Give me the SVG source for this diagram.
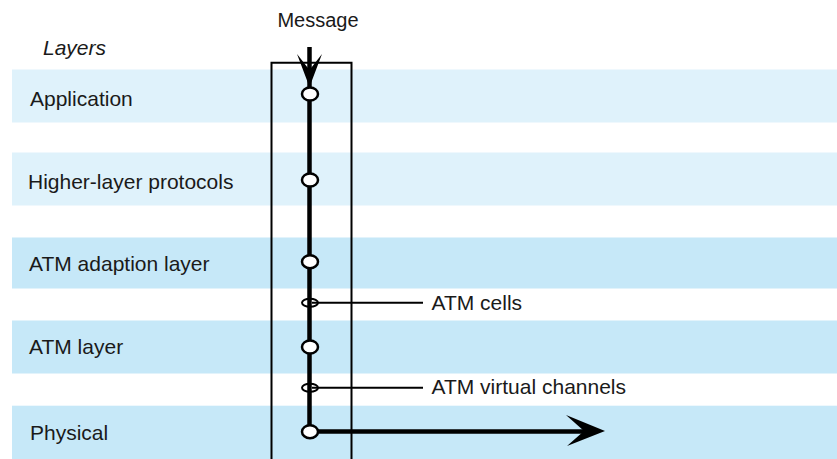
<svg xmlns="http://www.w3.org/2000/svg" width="837" height="459" viewBox="0 0 837 459">
<style>
.light{fill:#dff2fb}
.dark{fill:#c6e8f8}
.lbl{font-family:"Liberation Sans",Arial,sans-serif;font-size:21px;fill:#1a1a1a}
.port{fill:#fff;stroke:#000;stroke-width:2.5}
.tap{fill:none;stroke:#000;stroke-width:2}
.thin{fill:none;stroke:#000;stroke-width:2}
.thick{fill:none;stroke:#000;stroke-width:4.5}
</style>
<rect width="837" height="459" fill="#fff"/>
<g id="layer-application"><rect class="light" x="12" y="69.5" width="825" height="53"/><text class="lbl" x="30" y="106">Application</text></g>
<g id="layer-higher"><rect class="light" x="12" y="152.5" width="825" height="53"/><text class="lbl" x="28" y="189">Higher-layer protocols</text></g>
<g id="layer-aal"><rect class="dark" x="12" y="237.5" width="825" height="51"/><text class="lbl" x="29" y="271">ATM adaption layer</text></g>
<g id="layer-atm"><rect class="dark" x="12" y="320.5" width="825" height="53"/><text class="lbl" x="29" y="353.5">ATM layer</text></g>
<g id="layer-physical"><rect class="dark" x="12" y="405.7" width="825" height="54"/><text class="lbl" x="30" y="440">Physical</text></g>
<g id="title-layers"><text class="lbl" x="43" y="55" font-style="italic">Layers</text></g>
<g id="system-box"><path class="thin" d="M271.5 460 V62.7 H351.5 V460"/></g>
<g id="connectors">
<line class="thick" x1="309.5" y1="47" x2="309.5" y2="431.7"/>
<polygon points="297,54 309.5,87 322,54 309.5,70" fill="#000"/>
<line class="thick" x1="310" y1="431.5" x2="590" y2="431.5"/>
<polygon points="566,415 605,431 567,446 584,431" fill="#000"/>
<line class="thin" x1="312" y1="302.8" x2="423" y2="302.8"/>
<line class="thin" x1="312" y1="387.8" x2="423" y2="387.8"/>
</g>
<g id="node-app"><ellipse class="port" cx="310" cy="94" rx="8" ry="6.5"/></g>
<g id="node-higher"><ellipse class="port" cx="310" cy="180" rx="8" ry="6.5"/></g>
<g id="node-aal"><ellipse class="port" cx="310" cy="261.7" rx="8" ry="6.5"/></g>
<g id="node-cells"><ellipse class="tap" cx="310" cy="302.8" rx="8" ry="4"/></g>
<g id="node-atm"><ellipse class="port" cx="310" cy="347" rx="8" ry="6.5"/></g>
<g id="node-vc"><ellipse class="tap" cx="310" cy="387.8" rx="8" ry="4"/></g>
<g id="node-phys"><ellipse class="port" cx="310" cy="431.7" rx="8" ry="6.5"/></g>
<g id="label-message"><text class="lbl" x="318" y="27" font-size="20" text-anchor="middle" style="font-size:20px">Message</text></g>
<g id="label-cells"><text class="lbl" x="431.5" y="309.5">ATM cells</text></g>
<g id="label-vc"><text class="lbl" x="431.5" y="393.5">ATM virtual channels</text></g>
</svg>
